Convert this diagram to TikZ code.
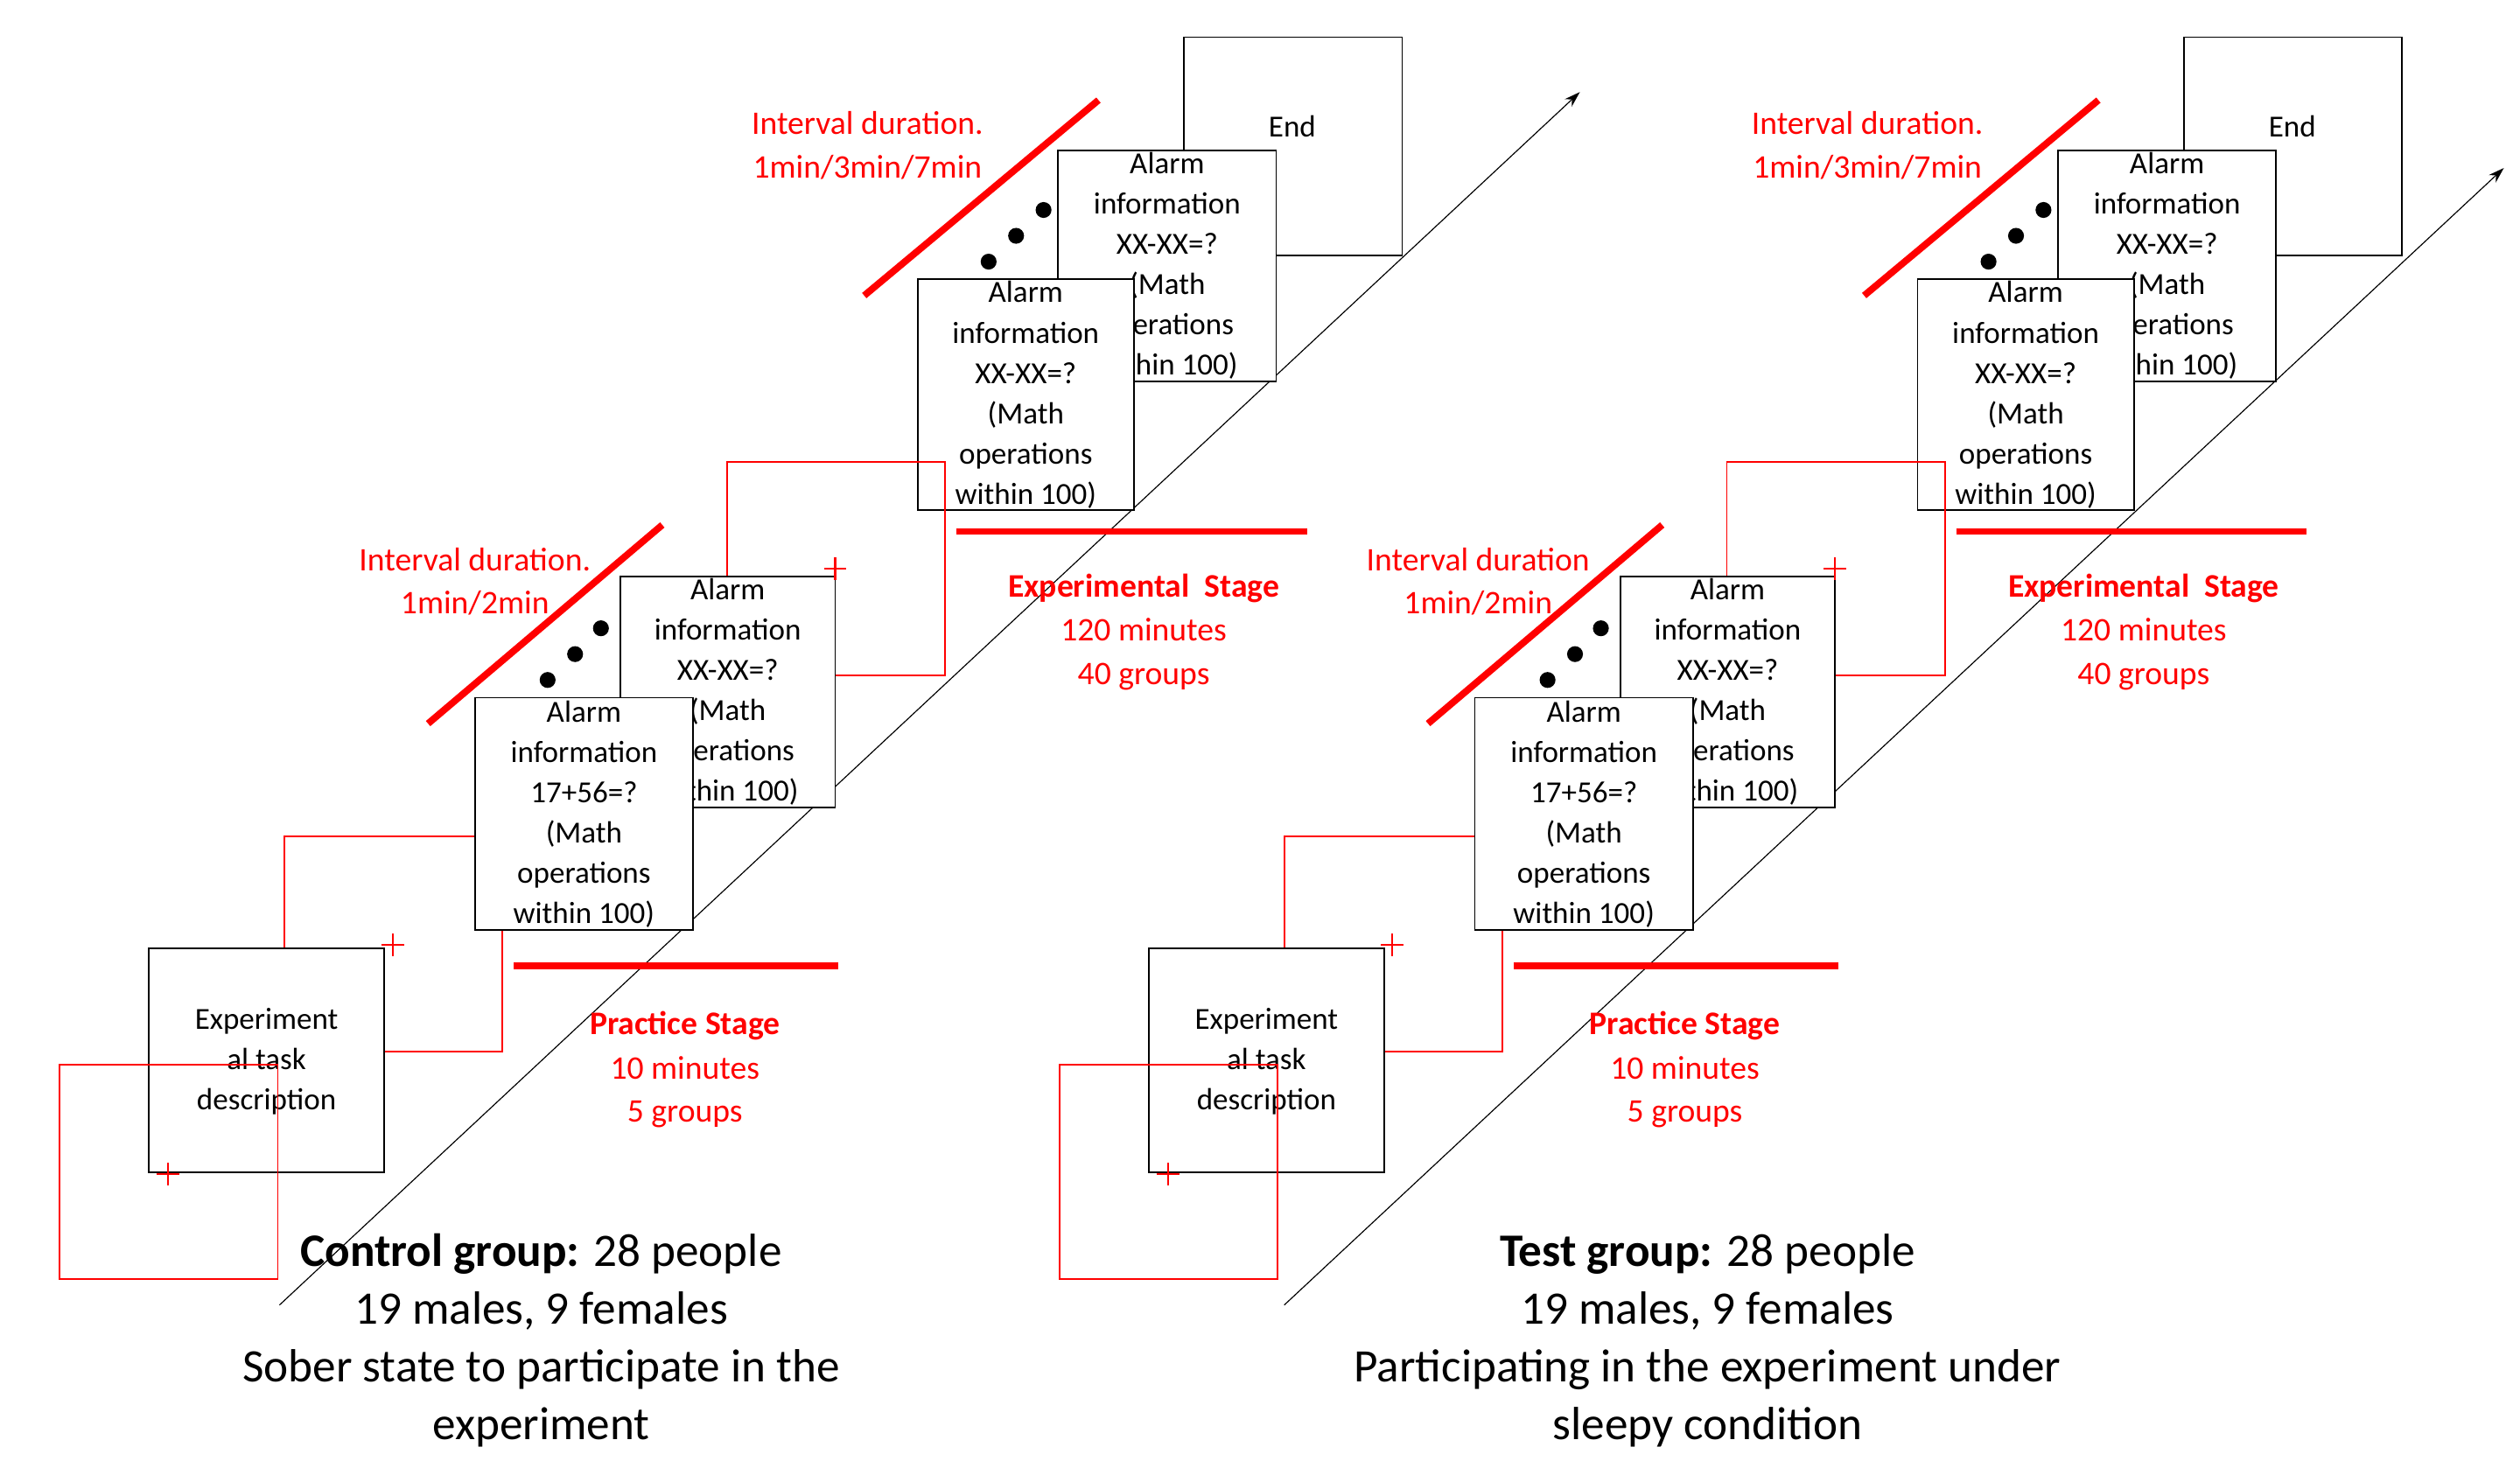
\documentclass[tikz,border=0pt]{standalone}
\usepackage{fontspec}
\setmainfont{Carlito}
\usetikzlibrary{arrows.meta}
\begin{document}
\begin{tikzpicture}[x=0.05cm,y=-0.05cm,
  box/.style={draw=black,line width=1.4pt,fill=white},
  rsq/.style={draw=red,line width=1.4pt},
  btxt/.style={align=center,font=\fontsize{27}{35.5}\selectfont},
  rtxt/.style={align=center,text=red,font=\fontsize{29}{38}\selectfont},
  gtxt/.style={align=center,font=\fontsize{41}{51}\selectfont},
  thick red/.style={draw=red,line width=6pt},
  dot/.style={fill=black,circle,inner sep=0pt,minimum size=14pt}]
\useasboundingbox (0,0) rectangle (1560,913);
\newcommand{\plus}[2]{\draw[red,line width=1.6pt] (#1-7,#2)--(#1+7,#2) (#1,#2-7)--(#1,#2+7);}
\newcommand{\alarm}[6]{% name, x1,y1,x2,y2, third line
  \draw[box] (#2,#3) rectangle (#4,#5);
  \node[btxt] (#1) at ({(#2+#4)/2},{(#3+#5)/2}) {Alarm\\information\\#6\\(Math\\operations\\within 100)};}
\newcommand{\panel}{%
  \draw[red,line width=1.4pt] (176,518) -- (311,518) -- (311,651) -- (176,651) -- cycle;
  \draw[box] (733,23) rectangle (868,158);
  \node[btxt] (end) at (800,78) {End};
  \alarm{b4}{655}{93}{790}{236}{XX-XX=?}
  \alarm{b3}{568}{173}{702}{316}{XX-XX=?}
  \draw[rsq] (450,286) rectangle (585,418);
  \alarm{b2}{384}{357}{517}{500}{XX-XX=?}
  \alarm{b1}{294}{432}{429}{576}{17+56=?}
  \draw[box] (92,587) rectangle (238,726);
  \node[btxt] (desc) at (165,657) {Experiment\\al task\\description};
  \draw[rsq] (37,659) rectangle (172,792);
  \plus{104}{727}\plus{243}{585}\plus{517}{352}
  \coordinate (r1a) at (265,448); \coordinate (r1b) at (410,325);
  \coordinate (r2a) at (535,183); \coordinate (r2b) at (680,62);
  \draw[thick red] (r1a)--(r1b);
  \draw[thick red] (r2a)--(r2b);
  \node[dot] (d1) at (339,421) {}; \node[dot] (d2) at (356,405) {}; \node[dot] (d3) at (372,389) {};
  \node[dot] (d4) at (612,162) {}; \node[dot] (d5) at (629,146) {}; \node[dot] (d6) at (646,130) {};
  \coordinate (h1a) at (318,598); \coordinate (h1b) at (519,598);
  \coordinate (h2a) at (592,329); \coordinate (h2b) at (809,329);
  \draw[thick red] (h1a)--(h1b);
  \draw[thick red] (h2a)--(h2b);
  \node[rtxt] (i2) at (537,90) {Interval duration.\\1min/3min/7min};
  \node[rtxt] (ps) at (424,635) {\textbf{Practice Stage}};
  \node[rtxt] (psi) at (424,676) {10 minutes\\5 groups};
  \node[rtxt] (es) at (708,364) {\textbf{Experimental\ \ Stage}};
  \node[rtxt] (esi) at (708,405) {120 minutes\\40 groups};
}
% left panel
\coordinate (a1) at (173,808); \coordinate (a2) at (978,57);
\draw[line width=0.9pt,-{Stealth[length=14pt,width=9pt]}] (a1)--(a2);
\panel
\node[rtxt] (i1) at (294,360) {Interval duration.\\1min/2min};
\node[gtxt] (g1) at (335,830) {\textbf{Control group:} 28 people\\19 males, 9 females\\Sober state to participate in the\\experiment};
% right panel
\begin{scope}[xshift=619*0.05cm]
\coordinate (a3) at (176,808); \coordinate (a4) at (931,104);
\draw[line width=0.9pt,-{Stealth[length=14pt,width=9pt]}] (a3)--(a4);
\panel
\node[rtxt] (i3) at (296,360) {Interval duration\\1min/2min};
\node[gtxt] (g2) at (438,830) {\textbf{Test group:} 28 people\\19 males, 9 females\\Participating in the experiment under\\sleepy condition};
\end{scope}
\end{tikzpicture}
\end{document}
